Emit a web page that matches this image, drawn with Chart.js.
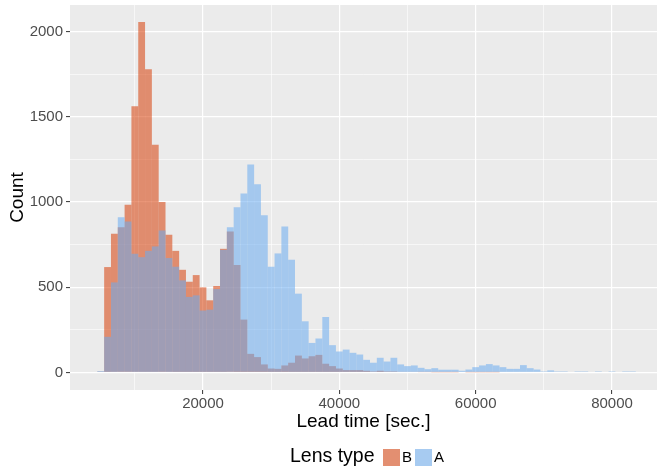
<!DOCTYPE html>
<html>
<head>
<meta charset="utf-8">
<script src="https://cdn.jsdelivr.net/npm/chart.js@4.4.1/dist/chart.umd.min.js"></script>
<style>
    html, body { margin: 0; padding: 0; background: #fff; }
    #wrap { width: 664px; height: 473px; }
</style>
</head>
<body>
<div id="wrap"><canvas id="hist"></canvas></div>
<script>
// Histogram bins (centre of each 1000 s bin)
const leadTime = [
    5000, 6000, 7000, 8000, 9000, 10000, 11000, 12000, 13000, 14000,
    15000, 16000, 17000, 18000, 19000, 20000, 21000, 22000, 23000, 24000,
    25000, 26000, 27000, 28000, 29000, 30000, 31000, 32000, 33000, 34000,
    35000, 36000, 37000, 38000, 39000, 40000, 41000, 42000, 43000, 44000,
    45000, 46000, 47000, 48000, 49000, 50000, 51000, 52000, 53000, 54000,
    55000, 56000, 57000, 58000, 59000, 60000, 61000, 62000, 63000, 64000,
    65000, 66000, 67000, 68000, 69000, 70000, 71000, 72000, 73000, 74000,
    75000, 76000, 77000, 78000, 79000, 80000, 81000, 82000, 83000, 84000
];

// Lens type B
const countB = [
    5, 618, 813, 852, 984, 1561, 2055, 1778, 1335, 1000,
    807, 713, 602, 532, 571, 499, 423, 507, 725, 826,
    630, 310, 109, 90, 47, 23, 21, 41, 57, 99,
    82, 95, 103, 51, 37, 23, 14, 14, 14, 10,
    6, 10, 6, 6, 4, 3, 3, 2, 2, 1,
    1, 1, 1, 0, 1, 1, 1, 1, 1, 0,
    0, 0, 0, 0, 0, 0, 0, 0, 0, 0,
    0, 0, 0, 0, 0, 0, 0, 0, 0, 0
];

// Lens type A
const countA = [
    8, 209, 528, 910, 885, 696, 676, 713, 739, 832,
    671, 620, 540, 443, 452, 363, 368, 489, 719, 852,
    969, 1049, 1220, 1103, 922, 620, 698, 856, 661, 462,
    300, 173, 199, 325, 160, 123, 134, 115, 105, 74,
    57, 86, 64, 86, 47, 37, 41, 27, 19, 25,
    16, 16, 16, 10, 17, 31, 41, 49, 41, 31,
    21, 21, 43, 25, 17, 6, 12, 6, 6, 0,
    6, 6, 0, 6, 0, 6, 0, 6, 6, 0
];

const yTicks = [0, 250, 500, 750, 1000, 1250, 1500, 1750, 2000];
const xTicks = [10000, 20000, 30000, 40000, 50000, 60000, 70000, 80000];
const legendTitle = 'Lens type';

const FONT = '"Liberation Sans", Arial, sans-serif';
const colB = 'rgba(215, 62, 8, 0.55)';
const colA = 'rgba(106, 171, 240, 0.55)';

// grey panel behind the plot
const panelBg = {
    id: 'panelBg',
    beforeDraw(chart) {
        const { ctx, chartArea: a } = chart;
        ctx.save();
        ctx.fillStyle = '#EBEBEB';
        ctx.fillRect(a.left, a.top, a.right - a.left, a.bottom - a.top);
        ctx.restore();
    }
};

// ggplot-style legend on one line under the axis title
const lensLegend = {
    id: 'lensLegend',
    afterDraw(chart) {
        const ctx = chart.ctx;
        ctx.save();
        ctx.textBaseline = 'middle';
        ctx.textAlign = 'left';
        ctx.fillStyle = '#000';
        ctx.font = '19.5px ' + FONT;
        ctx.fillText(legendTitle, 290, 457);

        const keys = [
            { label: 'B', color: colB, x: 383 },
            { label: 'A', color: colA, x: 415 }
        ];
        ctx.font = '15px ' + FONT;
        keys.forEach(k => {
            ctx.fillStyle = '#F2F2F2';
            ctx.fillRect(k.x, 449, 17, 17);
            ctx.fillStyle = k.color;
            ctx.fillRect(k.x, 449, 17, 17);
            ctx.fillStyle = '#000';
            ctx.fillText(k.label, k.x + 19, 458);
        });
        ctx.restore();
    }
};

new Chart(document.getElementById('hist'), {
    type: 'bar',
    data: {
        datasets: [
            {
                label: 'B',
                data: leadTime.map((x, i) => ({ x: x, y: countB[i] })),
                backgroundColor: colB,
                borderWidth: 0,
                inflateAmount: 0,
                order: 1
            },
            {
                label: 'A',
                data: leadTime.map((x, i) => ({ x: x, y: countA[i] })),
                backgroundColor: colA,
                borderWidth: 0,
                inflateAmount: 0,
                order: 0
            }
        ]
    },
    options: {
        responsive: true,
        maintainAspectRatio: false,
        animation: false,
        devicePixelRatio: 1,
        layout: { padding: { top: 5, right: 7, left: 0, bottom: 0 } },
        datasets: {
            bar: { grouped: false, barPercentage: 1, categoryPercentage: 1 }
        },
        plugins: {
            legend: { display: false },
            tooltip: { enabled: false }
        },
        scales: {
            x: {
                type: 'linear',
                offset: false,
                min: 490,
                max: 86600,
                afterBuildTicks: s => { s.ticks = xTicks.map(v => ({ value: v })); },
                afterFit: s => { s.height = 83; s.paddingLeft = 0; s.paddingRight = 0; },
                border: { display: false },
                grid: {
                    offset: false,
                    color: '#FFFFFF',
                    lineWidth: c => (c.tick && c.tick.value % 20000 === 0) ? 1.2 : 0.6,
                    tickColor: c => (c.tick && c.tick.value % 20000 === 0) ? '#333333' : 'rgba(0,0,0,0)',
                    tickLength: 4,
                    tickWidth: 1
                },
                ticks: {
                    autoSkip: false,
                    maxRotation: 0,
                    padding: 1,
                    color: '#4D4D4D',
                    font: { family: FONT, size: 15 },
                    callback: v => v % 20000 === 0 ? String(v) : ''
                },
                title: {
                    display: true,
                    text: 'Lead time [sec.]',
                    color: '#000',
                    font: { family: FONT, size: 19 },
                    padding: { top: 0, bottom: 40 }
                }
            },
            y: {
                min: -103,
                max: 2155,
                afterBuildTicks: s => { s.ticks = yTicks.map(v => ({ value: v })); },
                afterFit: s => { s.width = 70; s.paddingTop = 0; s.paddingBottom = 0; },
                border: { display: false },
                grid: {
                    color: '#FFFFFF',
                    lineWidth: c => (c.tick && c.tick.value % 500 === 0) ? 1.2 : 0.6,
                    tickColor: c => (c.tick && c.tick.value % 500 === 0) ? '#333333' : 'rgba(0,0,0,0)',
                    tickLength: 4,
                    tickWidth: 1
                },
                ticks: {
                    padding: 3,
                    color: '#4D4D4D',
                    font: { family: FONT, size: 15 },
                    callback: v => v % 500 === 0 ? String(v) : ''
                },
                title: {
                    display: true,
                    text: 'Count',
                    color: '#000',
                    font: { family: FONT, size: 19 },
                    padding: { top: 6, bottom: 0 }
                }
            }
        }
    },
    plugins: [panelBg, lensLegend]
});
</script>
</body>
</html>
